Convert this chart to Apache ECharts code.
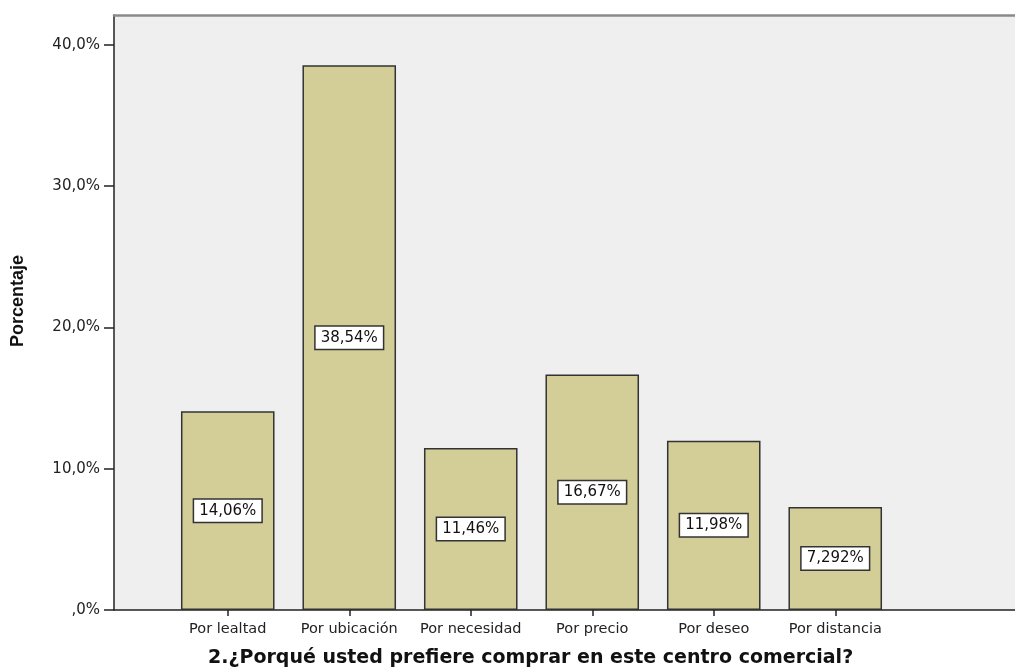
<!DOCTYPE html>
<html>
<head>
<meta charset="utf-8">
<script src="https://cdn.jsdelivr.net/npm/echarts@6/dist/echarts.min.js"></script>
<style>
  html, body { margin: 0; padding: 0; background: #fff; }
  #chart { width: 1015px; height: 672px; }
</style>
</head>
<body>
<div id="chart"></div>
<script>
// Reasons for choosing the shopping centre (percent of respondents)
const categories = ['Por lealtad', 'Por ubicación', 'Por necesidad', 'Por precio', 'Por deseo', 'Por distancia'];
const percentages = [14.06, 38.54, 11.46, 16.67, 11.98, 7.292];
const yTicks = [0, 10, 20, 30, 40];
const yAxisTitle = 'Porcentaje';
const xAxisTitle = '2.¿Porqué usted prefiere comprar en este centro comercial?';

const Y_MAX = 42.1;
const font = '"DejaVu Sans", Verdana, sans-serif';

function pctTick(v) {
  return v === 0 ? ',0%' : v.toFixed(1).replace('.', ',') + '%';
}
function pctLabel(v) {
  return Number(v).toPrecision(4).replace('.', ',') + '%';
}

const chart = echarts.init(document.getElementById('chart'), null, { renderer: 'canvas' });

chart.setOption({
  animation: false,
  backgroundColor: '#ffffff',
  grid: [
    // frame of the plot area
    { left: 114, right: 0, top: 15, bottom: 62, show: true, backgroundColor: '#efefef', borderWidth: 0 },
    // band holding the bars
    { left: 167, right: 119, top: 15, bottom: 62 }
  ],
  xAxis: [
    {
      gridIndex: 0, type: 'value', min: 0, max: 1, position: 'bottom',
      axisLine: { show: true, lineStyle: { color: '#222', width: 1.5 } },
      axisTick: { show: false }, axisLabel: { show: false }, splitLine: { show: false }
    },
    {
      gridIndex: 0, type: 'value', min: 0, max: 1, position: 'top',
      axisLine: { show: true, lineStyle: { color: '#8a8a8a', width: 2.5 } },
      axisTick: { show: false }, axisLabel: { show: false }, splitLine: { show: false }
    },
    {
      gridIndex: 1, type: 'category', data: categories, position: 'bottom',
      axisLine: { show: false },
      axisTick: { show: true, interval: 0, alignWithLabel: true, length: 6, lineStyle: { color: '#222', width: 1.5 } },
      axisLabel: { interval: 0, hideOverlap: false, color: '#222', fontSize: 14.5, fontFamily: font, margin: 12 },
      splitLine: { show: false }
    }
  ],
  yAxis: [
    {
      gridIndex: 0, type: 'value', min: 0, max: Y_MAX, interval: 10,
      axisLine: { show: true, lineStyle: { color: '#222', width: 1.5 } },
      axisTick: { show: true, length: 10, customValues: yTicks, lineStyle: { color: '#222', width: 1.5 } },
      axisLabel: { customValues: yTicks, formatter: pctTick, color: '#222', fontSize: 15, fontFamily: font, margin: 14 },
      splitLine: { show: false }
    },
    {
      gridIndex: 1, type: 'value', min: 0, max: Y_MAX,
      axisLine: { show: false }, axisTick: { show: false }, axisLabel: { show: false }, splitLine: { show: false }
    }
  ],
  series: [{
    type: 'bar',
    xAxisIndex: 2,
    yAxisIndex: 1,
    data: percentages,
    barWidth: '77%',
    itemStyle: { color: '#d3cd98', borderColor: '#333', borderWidth: 1.5 },
    label: {
      show: true,
      position: 'inside',
      formatter: p => pctLabel(p.value),
      color: '#111',
      fontSize: 15,
      fontFamily: font,
      backgroundColor: '#ffffff',
      borderColor: '#333',
      borderWidth: 1.5,
      padding: [4, 5, 3, 5]
    }
  }],
  graphic: [
    {
      type: 'text',
      left: 208,
      top: 649,
      style: {
        text: xAxisTitle,
        fontFamily: font,
        fontWeight: 'bold',
        fontSize: 19,
        fill: '#111'
      }
    },
    {
      type: 'text',
      x: 18,
      y: 301,
      rotation: Math.PI / 2,
      style: {
        text: yAxisTitle,
        align: 'center',
        verticalAlign: 'middle',
        fontFamily: '"Liberation Sans Narrow", "Arial Narrow", "Liberation Sans", Arial, sans-serif',
        fontWeight: 'bold',
        fontSize: 18,
        fill: '#111'
      }
    }
  ]
});
</script>
</body>
</html>
